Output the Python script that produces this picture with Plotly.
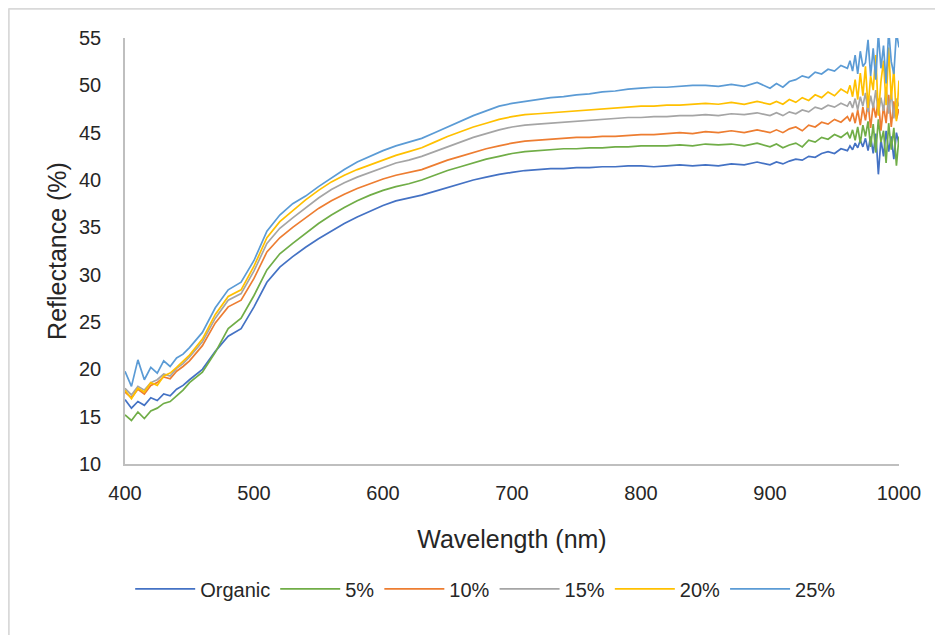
import plotly.graph_objects as go

# Wavelength grid (nm)
wavelength = (
    [400, 405, 410, 415, 420, 425, 430, 435, 440, 445, 450]
    + list(range(460, 901, 10))
    + [905, 910, 915, 920, 925, 930, 935, 940, 945, 950, 955, 960]
    + list(range(962, 1001, 2))
)

organic = [
    16.8, 15.9, 16.6, 16.2, 17.0, 16.7, 17.4, 17.2, 17.9, 18.3, 18.9,
    20.0, 21.9, 23.5, 24.3, 26.6, 29.2, 30.8, 31.9, 32.9, 33.8, 34.6, 35.4, 36.1, 36.7, 37.3,
    37.8, 38.1, 38.4, 38.8, 39.2, 39.6, 40.0, 40.3, 40.6, 40.8, 41.0, 41.1, 41.2, 41.2, 41.3,
    41.3, 41.4, 41.4, 41.5, 41.5, 41.4, 41.5, 41.6, 41.5, 41.6, 41.5, 41.7, 41.6, 41.9, 41.6,
    41.9, 41.7, 42.0, 42.2, 42.1, 42.5, 42.4, 42.8, 43.0, 42.8, 43.3, 43.1,
    43.6, 43.2, 43.9, 43.4, 44.2, 43.5, 44.4, 43.1, 44.6, 42.8, 44.9, 40.6, 44.3, 42.5, 45.2,
    43.0, 44.6, 42.2, 45.0, 43.8,
]

pct5 = [
    15.2, 14.6, 15.5, 14.8, 15.6, 15.9, 16.4, 16.6, 17.2, 17.8, 18.6,
    19.7, 21.8, 24.3, 25.4, 27.8, 30.5, 32.2, 33.3, 34.4, 35.4, 36.3, 37.1, 37.8, 38.4, 38.9,
    39.3, 39.6, 40.0, 40.5, 41.0, 41.4, 41.8, 42.2, 42.5, 42.8, 43.0, 43.1, 43.2, 43.3, 43.3,
    43.4, 43.4, 43.5, 43.5, 43.6, 43.6, 43.6, 43.7, 43.6, 43.8, 43.7, 43.8, 43.6, 43.9, 43.5,
    43.8, 43.4, 43.7, 43.9, 43.5, 44.2, 44.0, 44.5, 44.3, 44.8, 44.5, 45.0,
    44.4, 45.3, 44.2, 45.6, 43.9, 45.8, 44.6, 46.2, 43.5, 45.9, 42.9, 46.4, 44.0, 45.2, 41.8,
    46.0, 43.2, 45.5, 41.5, 44.6,
]

pct10 = [
    17.6, 17.0, 17.9, 17.4, 18.3, 18.6, 19.2, 19.0, 19.8, 20.3, 20.9,
    22.5, 24.9, 26.6, 27.3, 29.6, 32.4, 33.9, 35.0, 36.0, 37.0, 37.8, 38.5, 39.1, 39.6, 40.1,
    40.5, 40.8, 41.1, 41.6, 42.1, 42.5, 42.9, 43.3, 43.6, 43.9, 44.1, 44.2, 44.3, 44.4, 44.5,
    44.5, 44.6, 44.6, 44.7, 44.8, 44.8, 44.9, 45.0, 44.9, 45.1, 45.0, 45.2, 45.0, 45.3, 45.0,
    45.3, 45.0, 45.4, 45.6, 45.2, 45.8, 45.6, 46.1, 45.9, 46.4, 46.1, 46.7,
    46.2, 47.1, 46.0, 47.4, 45.8, 47.7, 46.3, 48.2, 45.5, 48.0, 46.6, 48.6, 45.2, 47.8, 46.0,
    49.0, 45.6, 48.3, 46.4, 47.5,
]

pct15 = [
    18.0, 17.3, 18.2, 17.8, 18.6, 18.9, 19.5, 19.3, 20.1, 20.6, 21.3,
    22.9, 25.4, 27.3, 28.0, 30.4, 33.3, 34.9, 36.0, 37.1, 38.1, 39.0, 39.7, 40.3, 40.8, 41.3,
    41.8, 42.1, 42.5, 43.0, 43.5, 44.0, 44.5, 44.9, 45.3, 45.6, 45.8, 45.9, 46.0, 46.1, 46.2,
    46.3, 46.4, 46.5, 46.6, 46.6, 46.7, 46.7, 46.8, 46.8, 46.9, 46.8, 47.0, 46.9, 47.1, 46.8,
    47.1, 46.8, 47.2, 47.0, 47.4, 47.2, 47.7, 47.5, 47.9, 47.7, 48.1, 47.8,
    48.3, 47.6, 48.6, 47.4, 48.8, 47.8, 49.2, 47.2, 48.9, 47.6, 49.5, 46.9, 48.7, 47.3, 49.8,
    47.0, 49.3, 46.5, 48.6, 47.8,
]

pct20 = [
    17.8, 16.9, 18.0, 17.6, 18.6, 18.3, 19.3, 19.6, 20.2, 20.8, 21.5,
    23.2, 25.8, 27.7, 28.4, 30.9, 33.9, 35.6, 36.8, 37.9, 38.9, 39.8, 40.5, 41.1, 41.6, 42.1,
    42.6, 43.0, 43.4, 44.0, 44.6, 45.1, 45.6, 46.0, 46.4, 46.7, 46.9, 47.0, 47.1, 47.2, 47.3,
    47.4, 47.5, 47.6, 47.7, 47.8, 47.8, 47.9, 47.9, 48.0, 48.1, 48.0, 48.2, 48.0, 48.3, 48.0,
    48.3, 48.0, 48.5, 48.2, 48.7, 48.4, 49.0, 48.7, 49.3, 48.9, 49.6, 49.2,
    50.0, 48.8, 50.6, 48.5, 51.3, 48.9, 52.0, 47.6, 51.0, 49.5, 53.2, 46.8, 50.4, 52.6, 47.9,
    54.0, 48.5, 51.8, 46.2, 50.5,
]

pct25 = [
    19.8, 18.2, 21.0, 18.9, 20.2, 19.6, 20.9, 20.3, 21.2, 21.6, 22.3,
    23.9, 26.5, 28.4, 29.2, 31.5, 34.6, 36.3, 37.5, 38.3, 39.3, 40.2, 41.1, 41.9, 42.5, 43.1,
    43.6, 44.0, 44.4, 45.0, 45.6, 46.2, 46.8, 47.3, 47.8, 48.1, 48.3, 48.5, 48.7, 48.8, 49.0,
    49.1, 49.3, 49.4, 49.6, 49.7, 49.8, 49.8, 49.9, 50.0, 50.0, 49.9, 50.1, 49.9, 50.3, 49.7,
    50.2, 49.8, 50.4, 50.6, 51.0, 50.8, 51.4, 51.2, 51.7, 51.5, 52.1, 51.8,
    52.6, 51.5, 53.2, 51.2, 53.6, 52.0, 52.4, 54.8, 51.0, 53.9, 50.6, 55.5, 51.8, 54.2, 50.2,
    55.8, 52.5, 51.2, 55.6, 54.0,
]

series_names = ["Organic", "5%", "10%", "15%", "20%", "25%"]
series_values = [organic, pct5, pct10, pct15, pct20, pct25]
colors = ["#4472C4", "#70AD47", "#ED7D31", "#A5A5A5", "#FFC000", "#5B9BD5"]

FONT = "Liberation Sans, Arial, sans-serif"
TEXT = "#262626"
AXIS_GRAY = "#BFBFBF"

# figure div sits 8px inside the page (body margin)
W, H = 935, 627
ML, MR, MT, MB = 117, 44, 30, 171
PW, PH = W - ML - MR, H - MT - MB

fig = go.Figure()
for name, vals, col in zip(series_names, series_values, colors):
    fig.add_trace(go.Scatter(
        x=wavelength, y=vals, name=name, mode="lines",
        line=dict(color=col, width=1.7),
    ))

bx = (0.5 - ML) / PW
by = (PH + MT - 0.5) / PH

fig.update_layout(
    width=W, height=H,
    margin=dict(l=ML, r=MR, t=MT, b=MB),
    paper_bgcolor="white", plot_bgcolor="white",
    font=dict(family=FONT, color=TEXT),
    showlegend=True,
    legend=dict(
        orientation="h", x=0.466, xanchor="center", y=-0.293, yanchor="middle",
        font=dict(size=20, family=FONT, color=TEXT),
        itemwidth=60, traceorder="normal",
    ),
    xaxis=dict(
        range=[400, 1000], dtick=100, tick0=400,
        showgrid=False, zeroline=False,
        showline=True, linecolor=AXIS_GRAY, linewidth=1.5,
        ticks="", tickfont=dict(size=20, family=FONT, color=TEXT),
        ticklabelstandoff=10,
        title=dict(text="Wavelength (nm)", font=dict(size=25, family=FONT, color=TEXT),
                   standoff=28),
    ),
    yaxis=dict(
        range=[10, 55], dtick=5, tick0=10,
        showgrid=False, zeroline=False,
        showline=True, linecolor=AXIS_GRAY, linewidth=1.5,
        ticks="", tickfont=dict(size=20, family=FONT, color=TEXT),
        ticklabelstandoff=18,
        title=dict(text="Reflectance (%)", font=dict(size=25, family=FONT, color=TEXT),
                   standoff=5),
    ),
    shapes=[
        dict(type="line", xref="paper", yref="paper",
             x0=bx, x1=bx, y0=-0.5, y1=by,
             line=dict(color="#D9D9D9", width=2.5)),
        dict(type="line", xref="paper", yref="paper",
             x0=bx, x1=1.2, y0=by, y1=by,
             line=dict(color="#D9D9D9", width=2.5)),
    ],
)

fig.write_html("out.html")
